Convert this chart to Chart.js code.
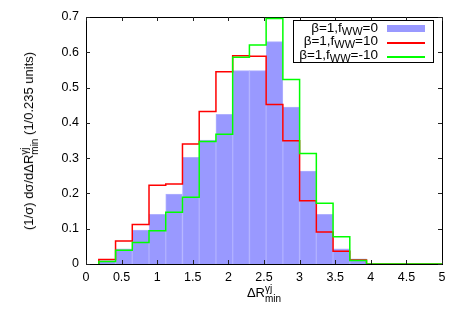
<!DOCTYPE html>
<html>
<head>
<meta charset="utf-8">
<script src="https://cdn.jsdelivr.net/npm/chart.js@4"></script>
<style>
  body { margin: 0; background: #fff; }
  #wrap { position: relative; width: 463px; height: 324px; font-family: "Liberation Sans", Arial, sans-serif; color: #000; }
  canvas { position: absolute; left: 0; top: 0; }
  .ss { display: inline-flex; flex-direction: column; vertical-align: 5px; font-size: 10px; line-height: 10px; }
  #ytitle { position: absolute; left: 30px; top: 141px; font-size: 13px; white-space: nowrap;
            transform: translate(-50%, -50%) rotate(-90deg); }
  #xtitle { position: absolute; left: 264px; top: 284px; font-size: 13px; white-space: nowrap; transform: translateX(-50%); }
  #legend { position: absolute; left: 293px; top: 20px; width: 139px; height: 41px; border: 1px solid #000; background: #fff; }
  .row { position: absolute; right: 55px; font-size: 13.5px; line-height: 14px; white-space: nowrap; text-align: right; }
  .row sub { font-size: 11px; vertical-align: -3px; line-height: 0; }
  .swatch { position: absolute; left: 93px; width: 38px; }
</style>
</head>
<body>
<div id="wrap">
  <canvas id="histChart" width="463" height="324"></canvas>
  <div id="ytitle">(1/σ) dσ/dΔR<span class="ss"><span>γj</span><span>min</span></span> (1/0.235 units)</div>
  <div id="xtitle">ΔR<span class="ss"><span>γj</span><span>min</span></span></div>
  <div id="legend">
    <div class="row" style="top:0px">β=1,f<sub>WW</sub>=0</div>
    <div class="row" style="top:13px">β=1,f<sub>WW</sub>=10</div>
    <div class="row" style="top:27px">β=1,f<sub>WW</sub>=-10</div>
    <div class="swatch" style="top:4px;height:7px;background:#9999ff"></div>
    <div class="swatch" style="top:21px;height:1.5px;background:#ff0000"></div>
    <div class="swatch" style="top:35px;height:1.5px;background:#00ff00"></div>
  </div>
</div>
<script>
/* ---------- DATA ---------- */
// bin edges in Delta R (bin width ~0.235)
const binEdges = [0.18, 0.415, 0.65, 0.885, 1.12, 1.355, 1.59, 1.825, 2.06,
                  2.295, 2.53, 2.765, 3.0, 3.235, 3.47, 3.705, 3.94];
const xEnd = 5;

// normalised distributions, one value per bin
const fww0   = [0.010, 0.043, 0.096, 0.141, 0.198, 0.302, 0.351, 0.424,
                0.548, 0.548, 0.630, 0.445, 0.263, 0.141, 0.043, 0.015];
const fww10  = [0.013, 0.065, 0.112, 0.223, 0.227, 0.340, 0.432, 0.545,
                0.590, 0.589, 0.452, 0.349, 0.179, 0.091, 0.036, 0.011];
const fwwM10 = [0.007, 0.039, 0.061, 0.094, 0.147, 0.189, 0.347, 0.368,
                0.586, 0.621, 0.696, 0.523, 0.313, 0.172, 0.077, 0.010];

const xTicks = [0, 0.5, 1, 1.5, 2, 2.5, 3, 3.5, 4, 4.5, 5];
const yTicks = [0, 0.1, 0.2, 0.3, 0.4, 0.5, 0.6, 0.7];

/* ---------- HELPERS ---------- */
// bar centres for the filled histogram
function barPoints(vals) {
  return vals.map((v, i) => ({ x: (binEdges[i] + binEdges[i + 1]) / 2, y: v }));
}
// step outline: left edge of every bin, then back down to zero
function stepPoints(vals) {
  const pts = [{ x: binEdges[0], y: 0 }];
  vals.forEach((v, i) => pts.push({ x: binEdges[i], y: v }));
  pts.push({ x: binEdges[binEdges.length - 1], y: 0 });
  pts.push({ x: xEnd, y: 0 });
  return pts;
}

/* ---------- FRAME + INWARD TICKS (gnuplot look) ---------- */
const frameTicks = {
  id: 'frameTicks',
  beforeDatasetsDraw(chart) {
    const { ctx, chartArea: a } = chart;
    ctx.save();
    ctx.strokeStyle = '#000';
    ctx.lineWidth = 1;
    ctx.strokeRect(Math.round(a.left) + 0.5, Math.round(a.top) + 0.5,
                   Math.round(a.right - a.left), Math.round(a.bottom - a.top));
    ctx.restore();
  },
  afterDatasetsDraw(chart) {
    const { ctx, chartArea: a, scales: { x, y } } = chart;
    ctx.save();
    ctx.strokeStyle = '#222';
    ctx.lineWidth = 1;
    ctx.beginPath();
    xTicks.forEach(t => {
      const px = Math.round(x.getPixelForValue(t)) + 0.5;
      ctx.moveTo(px, a.bottom); ctx.lineTo(px, a.bottom - 4);
      ctx.moveTo(px, a.top);    ctx.lineTo(px, a.top + 4);
    });
    yTicks.forEach(t => {
      const py = Math.round(y.getPixelForValue(t)) + 0.5;
      ctx.moveTo(a.left, py);  ctx.lineTo(a.left + 4, py);
      ctx.moveTo(a.right, py); ctx.lineTo(a.right - 4, py);
    });
    ctx.stroke();
    ctx.restore();
  }
};

/* ---------- CHART ---------- */
const tickFont = { family: '"Liberation Sans", Arial, sans-serif', size: 12.5 };

new Chart(document.getElementById('histChart'), {
  type: 'bar',
  data: {
    datasets: [
      {
        type: 'line', label: 'fww=-10', data: stepPoints(fwwM10), order: 1,
        stepped: 'before', borderColor: '#00ff00', borderWidth: 1.5,
        pointRadius: 0, fill: false
      },
      {
        type: 'line', label: 'fww=10', data: stepPoints(fww10), order: 2,
        stepped: 'before', borderColor: '#ff0000', borderWidth: 1.5,
        pointRadius: 0, fill: false
      },
      {
        type: 'bar', label: 'fww=0', data: barPoints(fww0), order: 3,
        backgroundColor: '#9999ff', borderColor: '#b0b0ff', borderWidth: 1,
        barPercentage: 1, categoryPercentage: 1
      }
    ]
  },
  options: {
    responsive: false,
    animation: false,
    layout: { padding: { left: 0, right: 21, top: 17, bottom: 0 } },
    plugins: { legend: { display: false }, tooltip: { enabled: false } },
    scales: {
      x: {
        type: 'linear', min: 0, max: 5, offset: false,
        grid: { display: false, drawTicks: false }, border: { display: false },
        afterBuildTicks: s => { s.ticks = xTicks.map(v => ({ value: v })); },
        afterFit: s => { s.height = 60; },
        ticks: { color: '#000', font: tickFont, padding: 6, maxRotation: 0, autoSkip: false,
                 callback: v => String(v) }
      },
      y: {
        min: 0, max: 0.7,
        grid: { display: false, drawTicks: false }, border: { display: false },
        afterBuildTicks: s => { s.ticks = yTicks.map(v => ({ value: v })); },
        afterFit: s => { s.width = 86; },
        ticks: { color: '#000', font: tickFont, padding: 7, callback: v => String(v) }
      }
    }
  },
  plugins: [frameTicks]
});
</script>
</body>
</html>
